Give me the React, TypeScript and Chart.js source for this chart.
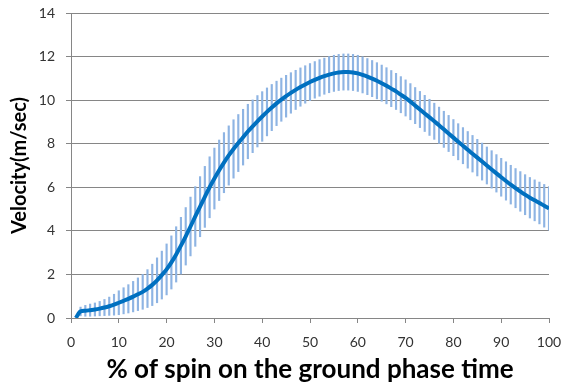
import React, { useEffect, useRef } from "react";
import { Chart, registerables } from "chart.js";

Chart.register(...registerables);

// % of spin on the ground phase time: 1..100 (one value per percent)
const MEAN_VELOCITY = [
  0.0, 0.3, 0.33, 0.36, 0.39, 0.43, 0.48, 0.54, 0.61, 0.7,
  0.79, 0.88, 0.98, 1.09, 1.2, 1.35, 1.52, 1.73, 1.97, 2.23,
  2.55, 2.92, 3.32, 3.75, 4.2, 4.66, 5.11, 5.56, 6.0, 6.4,
  6.78, 7.13, 7.46, 7.76, 8.03, 8.3, 8.56, 8.8, 9.03, 9.25,
  9.46, 9.66, 9.85, 10.02, 10.18, 10.33, 10.47, 10.6, 10.72, 10.83,
  10.93, 11.02, 11.1, 11.17, 11.23, 11.27, 11.29, 11.29, 11.27, 11.23,
  11.16, 11.08, 10.99, 10.89, 10.78, 10.66, 10.53, 10.4, 10.25, 10.1,
  9.93, 9.75, 9.57, 9.39, 9.21, 9.03, 8.85, 8.66, 8.47, 8.28,
  8.09, 7.91, 7.72, 7.54, 7.36, 7.18, 7.0, 6.82, 6.64, 6.46,
  6.29, 6.12, 5.96, 5.81, 5.66, 5.52, 5.4, 5.28, 5.15, 5.03,
];

const SD_VELOCITY = [
  0.0, 0.2, 0.25, 0.28, 0.3, 0.33, 0.37, 0.42, 0.48, 0.55,
  0.6, 0.65, 0.7, 0.75, 0.8, 0.87, 0.95, 1.03, 1.1, 1.17,
  1.22, 1.27, 1.3, 1.32, 1.35, 1.37, 1.38, 1.4, 1.4, 1.4,
  1.39, 1.38, 1.36, 1.34, 1.31, 1.28, 1.25, 1.21, 1.18, 1.14,
  1.1, 1.06, 1.02, 0.99, 0.96, 0.93, 0.9, 0.88, 0.86, 0.85,
  0.84, 0.84, 0.83, 0.83, 0.83, 0.83, 0.83, 0.83, 0.83, 0.83,
  0.83, 0.83, 0.83, 0.83, 0.83, 0.83, 0.83, 0.83, 0.83, 0.83,
  0.83, 0.83, 0.83, 0.83, 0.83, 0.83, 0.83, 0.83, 0.83, 0.83,
  0.83, 0.83, 0.84, 0.84, 0.84, 0.85, 0.85, 0.86, 0.86, 0.87,
  0.88, 0.89, 0.9, 0.91, 0.92, 0.93, 0.94, 0.96, 0.98, 1.0,
];

const X_TITLE = "% of spin on the ground phase time";
const Y_TITLE = "Velocity(m/sec)";

export default function App() {
  const canvasRef = useRef<HTMLCanvasElement | null>(null);

  useEffect(() => {
    if (!canvasRef.current) return;
    const lineData = MEAN_VELOCITY.map((v, i) => ({ x: i + 1, y: v }));
    const barData = MEAN_VELOCITY.map((v, i) => ({
      x: i + 1,
      y: [v - SD_VELOCITY[i], v + SD_VELOCITY[i]],
    })).filter((_, i) => SD_VELOCITY[i] > 0);

    const chart = new Chart(canvasRef.current, {
      type: "line",
      data: {
        datasets: [
          {
            type: "line",
            data: lineData,
            borderColor: "#0070C0",
            borderWidth: 4,
            pointRadius: 0,
            cubicInterpolationMode: "monotone",
            order: 0,
          } as any,
          {
            type: "bar",
            data: barData as any,
            backgroundColor: "#8EB4E3",
            barThickness: 1.5,
            order: 1,
          } as any,
        ],
      },
      options: {
        animation: false,
        responsive: false,
        layout: { padding: { top: 13, right: 14, left: 0, bottom: 0 } },
        plugins: { legend: { display: false }, tooltip: { enabled: false } },
        scales: {
          x: {
            type: "linear",
            min: 0,
            max: 100,
            offset: false,
            afterFit: (s: any) => {
              s.height = 69;
              s.paddingLeft = 0;
              s.paddingRight = 0;
            },
            ticks: {
              stepSize: 10,
              padding: 11,
              color: "#333333",
              font: { family: "Lato", size: 14 },
            },
            grid: {
              drawOnChartArea: false,
              drawTicks: true,
              tickLength: 5,
              color: "#868686",
              offset: false,
            },
            border: { color: "#868686", width: 1 },
            title: {
              display: true,
              text: X_TITLE,
              color: "#000000",
              font: { family: "Lato", size: 26, weight: "bold" },
              padding: { top: 0, bottom: 2 },
            },
          },
          y: {
            min: 0,
            max: 14,
            afterFit: (s: any) => {
              s.width = 71;
              s.paddingTop = 0;
              s.paddingBottom = 0;
            },
            ticks: {
              stepSize: 2,
              padding: 11,
              color: "#333333",
              font: { family: "Lato", size: 14 },
            },
            grid: {
              color: "#868686",
              tickLength: 5,
            },
            border: { color: "#868686", width: 1 },
            title: {
              display: true,
              text: Y_TITLE,
              color: "#000000",
              font: { family: "Lato", size: 20, weight: "bold" },
              padding: { top: 8, bottom: 0 },
            },
          },
        },
      },
    });
    return () => chart.destroy();
  }, []);

  return (
    <div style={{ position: "absolute", left: 0, top: 0, width: 563, height: 387, background: "#fff" }}>
      <canvas ref={canvasRef} width={563} height={387} />
    </div>
  );
}
